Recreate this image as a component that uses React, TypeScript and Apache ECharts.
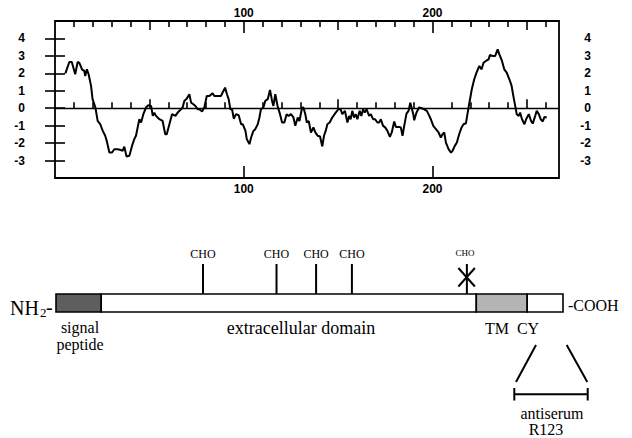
import React, { useEffect, useRef } from "react";
import * as echarts from "echarts";

// Hydropathy profile (residue number, hydropathy index)
const residues = [
  5.5, 7.6, 8.9, 10.7, 12.0, 12.9, 14.3, 15.5, 16.0, 16.9, 17.8, 19.1, 19.9, 21.4, 22.6, 24.0, 25.3, 26.6, 27.4, 28.8,
  30.2, 31.4, 33.2, 34.9, 35.8, 36.7, 37.9, 39.4, 40.8, 42.0, 42.9, 43.8, 44.7, 45.6, 46.8, 48.2, 49.4, 50.9, 51.8, 52.6,
  53.5, 55.3, 57.0, 58.4, 59.2, 60.6, 62.0, 63.8, 65.0, 66.8, 67.6, 68.5, 69.8, 71.2, 72.1, 73.3, 74.4, 75.6, 76.5, 77.9,
  79.1, 80.4, 81.8, 83.5, 84.4, 86.2, 87.9, 88.8, 90.1, 91.1, 92.0, 92.9, 93.8, 94.7, 95.9, 97.3, 98.6, 99.5, 100.9, 101.6,
  103.0, 103.9, 105.1, 106.1, 107.4, 108.3, 109.1, 110.4, 111.4, 112.7, 113.9, 115.0, 115.7, 116.7, 117.9, 119.2, 120.3, 121.5, 122.7, 123.8,
  125.0, 126.3, 127.3, 128.6, 129.5, 130.9, 131.6, 132.6, 133.4, 134.4, 135.6, 136.9, 137.9, 139.2, 140.4, 141.6, 142.5, 143.4, 144.3, 145.5,
  146.9, 148.7, 150.1, 151.3, 152.2, 153.6, 154.9, 155.8, 156.6, 157.5, 158.4, 159.3, 160.2, 161.4, 162.3, 163.2, 164.1, 165.1, 166.4, 167.3,
  168.5, 169.6, 170.8, 171.7, 172.6, 173.8, 174.9, 176.1, 177.4, 178.4, 179.7, 180.6, 182.3, 183.2, 184.1, 185.0, 186.2, 187.3, 188.2, 188.9,
  189.8, 190.3, 191.5, 192.9, 194.3, 195.6, 197.0, 198.3, 199.1, 200.4, 201.8, 203.2, 204.4, 205.3, 206.2, 207.1, 208.5, 209.8, 210.6, 211.8,
  212.9, 214.1, 215.4, 216.4, 217.7, 218.5, 219.4, 220.8, 222.1, 223.3, 224.8, 226.0, 227.0, 228.3, 229.7, 230.4, 231.8, 233.2, 234.5, 235.4,
  236.8, 238.0, 239.3, 240.7, 241.9, 242.8, 243.9, 244.6, 245.7, 246.4, 247.4, 248.7, 249.6, 251.0, 252.2, 253.1, 254.4, 255.2, 256.3, 257.3,
  258.4, 259.3, 260.5,
];
const hydropathy = [
  2.0, 2.65, 2.65, 1.95, 2.65, 2.6, 2.23, 2.14, 1.85, 2.23, 1.95, 1.28, 0.52, 0.04, -0.73, -0.92, -1.3, -1.58, -1.87, -2.54,
  -2.54, -2.35, -2.35, -2.4, -2.44, -2.2, -2.77, -2.73, -2.16, -1.77, -1.58, -1.1, -0.63, -0.82, -0.34, 0.04, 0.17, 0.13, -0.44, -0.25,
  -0.44, -0.63, -0.73, -1.49, -1.49, -0.92, -0.34, -0.44, -0.25, -0.06, 0.04, 0.42, 0.55, 0.8, 0.32, 0.23, 0.13, -0.06, -0.06, -0.19,
  0.04, 0.7, 0.7, 0.86, 0.7, 0.7, 0.7, 0.9, 1.18, 0.8, 0.52, -0.06, -0.06, -0.6, -0.34, -0.4, -0.92, -0.92, -1.3, -1.77,
  -2.06, -1.68, -1.3, -1.2, -0.92, -0.53, -0.06, 0.04, 0.42, 0.52, 1.05, 0.42, 0.13, 0.8, 0.13, -0.34, -0.82, -0.82, -0.34, -0.44,
  -0.34, -0.53, -1.01, -0.53, -0.73, 0.04, 0.04, -0.34, -0.82, -0.73, -1.39, -1.1, -1.39, -1.58, -1.62, -2.19, -1.58, -1.3, -0.92, -0.82,
  -0.53, -0.25, -0.06, -0.06, -0.34, -0.15, -0.82, -0.44, -0.63, -0.15, -0.53, -0.34, -0.63, -0.15, -0.44, -0.06, -0.25, -0.06, -0.44, -0.34,
  -0.63, -0.63, -0.82, -0.82, -0.63, -1.01, -1.1, -1.3, -1.64, -1.39, -0.76, -1.07, -1.07, -1.1, -1.58, -1.01, -0.31, -0.15, 0.32, 0.04,
  -0.34, -0.69, -0.25, 0.04, 0.0, -0.06, -0.15, -0.44, -0.63, -1.01, -1.2, -1.39, -1.68, -1.49, -1.39, -1.97, -2.35, -2.54, -2.44, -2.16,
  -1.97, -1.49, -1.1, -0.92, -0.86, -0.34, 0.23, 1.09, 1.66, 2.04, 2.42, 2.23, 2.61, 2.71, 2.8, 3.05, 3.0, 3.0, 3.38, 3.09,
  2.71, 2.23, 2.04, 1.66, 1.28, 0.71, 0.08, -0.34, -0.44, -0.25, -0.63, -0.92, -0.63, -0.34, -0.73, -0.88, -0.44, -0.15, -0.34, -0.63,
  -0.76, -0.5, -0.53,
];

// Axis ticks and labels
const yTickValues = [-3, -2, -1, 0, 1, 2, 3, 4];
const xShortTicks = [10, 20, 30, 40, 60, 70, 80, 90, 110, 120, 130, 140, 160, 170, 180, 190, 210, 220, 230, 240, 260];
const xMidTicks = [50, 150, 250];
const xMajorTicks = [100, 200];

// Protein domain map (residue positions)
const domainNames = ["signal", "extracellular", "TM", "CY"];
const domainStart = [0, 24, 223, 250];
const domainEnd = [24, 223, 250, 269];
const choSites = [78, 117, 138, 157, 218];
const choLost = [0, 0, 0, 0, 1];

const SERIF = "'Liberation Serif', 'Times New Roman', serif";
const SANS = "'Liberation Sans', Arial, sans-serif";

function xAxisDef(position: "top" | "bottom", ticks: number[], len: number, labels: number[] | null) {
  return {
    type: "value",
    gridIndex: 0,
    position,
    min: 0,
    max: 267,
    axisLine: { show: false },
    splitLine: { show: false },
    axisTick: { show: true, inside: true, length: len, customValues: ticks, lineStyle: { color: "#000", width: 1.6 } },
    axisLabel: labels
      ? {
          show: true,
          customValues: labels,
          margin: position === "top" ? 2 : 5,
          color: "#000",
          fontFamily: SANS,
          fontSize: 12,
          fontWeight: "bold",
        }
      : { show: false },
  };
}

function yAxisDef(position: "left" | "right") {
  return {
    type: "value",
    gridIndex: 0,
    position,
    min: -4,
    max: 5,
    interval: 1,
    axisLine: { show: false },
    splitLine: { show: false },
    axisTick: { show: true, inside: false, length: 10, customValues: yTickValues, lineStyle: { color: "#000", width: 1.6 } },
    axisLabel: {
      show: true,
      customValues: yTickValues,
      margin: position === "left" ? 30 : 32,
      align: "right",
      color: "#000",
      fontFamily: SANS,
      fontSize: 12,
      fontWeight: "bold",
    },
  };
}

const domainFill: Record<string, string> = {
  signal: "#5e5e5e",
  extracellular: "#ffffff",
  TM: "#b4b4b4",
  CY: "#ffffff",
};

function serifText(text: string, x: number, y: number, size: number, align = "center") {
  return {
    type: "text",
    x,
    y,
    style: {
      text,
      fill: "#000",
      font: `${size}px ${SERIF}`,
      fontFamily: SERIF,
      fontSize: size,
      align,
      verticalAlign: "middle",
    },
  };
}

export default function App() {
  const ref = useRef<HTMLDivElement>(null);
  useEffect(() => {
    const chart = echarts.init(ref.current!, null, { renderer: "svg" });
    const lineData = residues.map((r, i) => [r, hydropathy[i]]);
    const option: any = {
      animation: false,
      backgroundColor: "#fff",
      grid: [
        { left: 55, right: 73, top: 21, height: 157, show: true, borderColor: "#000", borderWidth: 1.8, backgroundColor: "transparent" },
        { left: 56, right: 69, top: 294, height: 18, show: false },
      ],
      xAxis: [
        xAxisDef("bottom", xShortTicks, 6, null),
        xAxisDef("bottom", xMidTicks, 9, null),
        xAxisDef("bottom", xMajorTicks, 12, xMajorTicks),
        xAxisDef("top", xShortTicks, 6, null),
        xAxisDef("top", xMidTicks, 9, null),
        xAxisDef("top", xMajorTicks, 12, xMajorTicks),
        { type: "value", gridIndex: 1, min: 0, max: 269, show: false },
      ],
      yAxis: [
        yAxisDef("left"),
        yAxisDef("right"),
        { type: "value", gridIndex: 1, min: 0, max: 1, show: false },
      ],
      series: [
        {
          type: "line",
          xAxisIndex: 0,
          yAxisIndex: 0,
          data: lineData,
          showSymbol: false,
          symbol: "none",
          lineStyle: { color: "#000", width: 2 },
          markLine: {
            silent: true,
            symbol: ["none", "none"],
            label: { show: false },
            lineStyle: { color: "#000", width: 1.3, type: "solid" },
            data: [{ yAxis: 0 }],
          },
        },
        {
          type: "custom",
          xAxisIndex: 6,
          yAxisIndex: 2,
          clip: false,
          data: domainStart.map((s, i) => [s, domainEnd[i]]),
          renderItem: (params: any, api: any) => {
            const p0 = api.coord([api.value(0), 1]);
            const p1 = api.coord([api.value(1), 0]);
            return {
              type: "rect",
              shape: { x: p0[0], y: p0[1], width: p1[0] - p0[0], height: p1[1] - p0[1] },
              style: { fill: domainFill[domainNames[params.dataIndex]], stroke: "#000", lineWidth: 1.6 },
            };
          },
        },
        {
          type: "custom",
          xAxisIndex: 6,
          yAxisIndex: 2,
          clip: false,
          data: choSites.map((s, i) => [s, choLost[i]]),
          renderItem: (params: any, api: any) => {
            const p = api.coord([api.value(0), 1]);
            const lost = api.value(1) === 1;
            const size = lost ? 9 : 12;
            const children: any[] = [
              { type: "line", shape: { x1: p[0], y1: p[1], x2: p[0], y2: p[1] - 30 }, style: { stroke: "#000", lineWidth: 2 } },
              {
                type: "text",
                x: p[0] - (lost ? 2 : 0),
                y: p[1] - (lost ? 41 : 40),
                style: {
                  text: "CHO",
                  fill: "#000",
                  font: `${size}px ${SERIF}`,
                  fontFamily: SERIF,
                  fontSize: size,
                  align: "center",
                  verticalAlign: "middle",
                },
              },
            ];
            if (lost) {
              children.push(
                { type: "line", shape: { x1: p[0] - 8.5, y1: p[1] - 26, x2: p[0] + 8, y2: p[1] - 7.5 }, style: { stroke: "#000", lineWidth: 2 } },
                { type: "line", shape: { x1: p[0] + 8, y1: p[1] - 26, x2: p[0] - 8.5, y2: p[1] - 7.5 }, style: { stroke: "#000", lineWidth: 2 } }
              );
            }
            return { type: "group", children };
          },
        },
      ],
      graphic: [
        serifText("NH", 10, 308, 20, "left"),
        serifText("2", 40, 312.5, 13, "left"),
        serifText("-", 46, 307, 20, "left"),
        serifText("-COOH", 568, 305, 16, "left"),
        serifText("signal", 80, 327.5, 16),
        serifText("peptide", 80, 344, 16),
        serifText("extracellular domain", 301, 328, 18),
        serifText("TM", 497, 328.5, 16),
        serifText("CY", 528, 328.5, 16),
        serifText("antiserum", 552, 413.5, 16),
        serifText("R123", 546, 429.5, 16),
        { type: "line", shape: { x1: 536, y1: 345, x2: 516, y2: 382 }, style: { stroke: "#000", lineWidth: 2 } },
        { type: "line", shape: { x1: 566.7, y1: 345, x2: 587.3, y2: 382 }, style: { stroke: "#000", lineWidth: 2 } },
        { type: "line", shape: { x1: 514.3, y1: 394.3, x2: 587.7, y2: 394.3 }, style: { stroke: "#000", lineWidth: 2 } },
        { type: "line", shape: { x1: 514.3, y1: 388, x2: 514.3, y2: 400.5 }, style: { stroke: "#000", lineWidth: 2 } },
        { type: "line", shape: { x1: 587.7, y1: 388, x2: 587.7, y2: 400.5 }, style: { stroke: "#000", lineWidth: 2 } },
      ],
    };
    chart.setOption(option);
    return () => chart.dispose();
  }, []);
  return (
    <div
      ref={ref}
      style={{ position: "absolute", left: 0, top: 0, width: 632, height: 438, background: "#fff" }}
    />
  );
}
